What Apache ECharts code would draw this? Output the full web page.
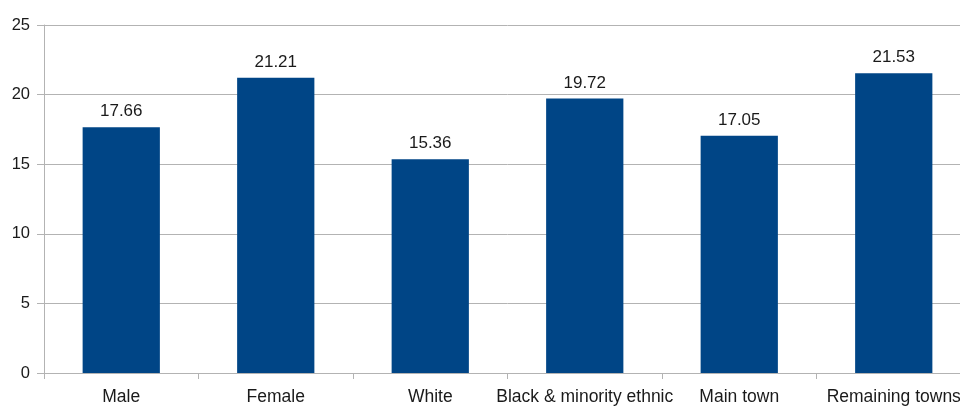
<!DOCTYPE html>
<html>
<head>
<meta charset="utf-8">
<script src="https://cdn.jsdelivr.net/npm/echarts@6/dist/echarts.min.js"></script>
<style>
  html, body { margin: 0; padding: 0; background: #fff; overflow: hidden; width: 960px; height: 406px; }
  /* the plot runs a little past the right edge of the window */
  #chart { width: 975px; height: 406px; }
</style>
</head>
<body>
<div id="chart"></div>
<script>
// Groups shown along the bottom axis
var categories = ['Male', 'Female', 'White', 'Black & minority ethnic', 'Main town', 'Remaining towns'];
// Value for each group
var values = [17.66, 21.21, 15.36, 19.72, 17.05, 21.53];
// Value axis range and step
var yMin = 0, yMax = 25, yStep = 5;

var font = 'Liberation Sans, Arial, sans-serif';
var chart = echarts.init(document.getElementById('chart'), null, { renderer: 'canvas' });
chart.setOption({
  animation: false,
  backgroundColor: '#ffffff',
  grid: { left: 44, top: 25, width: 927, height: 349, containLabel: false },
  xAxis: {
    type: 'category',
    data: categories,
    boundaryGap: true,
    axisLine: { show: true, lineStyle: { color: '#b3b3b3', width: 1 } },
    axisTick: { show: true, length: 6, alignWithLabel: false, lineStyle: { color: '#b3b3b3' } },
    axisLabel: {
      interval: 0, margin: 15, color: '#1a1a1a',
      fontFamily: font, fontSize: 17.5
    },
    splitLine: { show: false }
  },
  yAxis: {
    type: 'value',
    min: yMin, max: yMax, interval: yStep,
    axisLine: { show: true, lineStyle: { color: '#b3b3b3', width: 1 } },
    axisTick: { show: true, length: 7, lineStyle: { color: '#b3b3b3' } },
    axisLabel: {
      margin: 14, color: '#1a1a1a',
      fontFamily: font, fontSize: 16.5
    },
    splitLine: { show: true, lineStyle: { color: '#b3b3b3', width: 1 } }
  },
  series: [{
    type: 'bar',
    data: values,
    barWidth: '50%',
    itemStyle: { color: '#004586' },
    label: {
      show: true, position: 'top', distance: 7,
      color: '#1a1a1a',
      fontFamily: font, fontSize: 17,
      formatter: function (p) { return p.value.toFixed(2); }
    }
  }]
});
</script>
</body>
</html>
